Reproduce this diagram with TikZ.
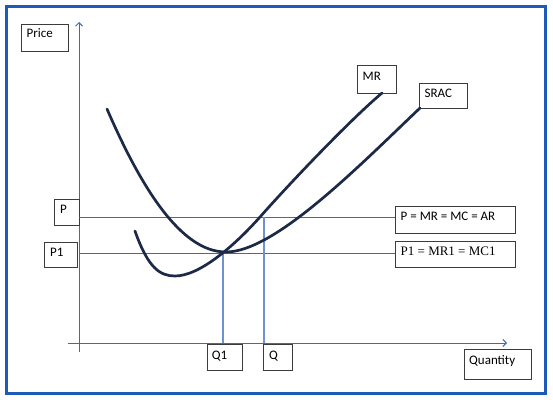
\documentclass[tikz,border=0pt]{standalone}
\usepackage{fontspec}
\setmainfont{Carlito}
\newfontfamily\serifq{Liberation Serif}
\usetikzlibrary{arrows.meta}
\definecolor{frameblue}{RGB}{30,90,185}
\definecolor{axisblue}{RGB}{60,105,185}
\definecolor{guideblue}{RGB}{110,145,210}
\definecolor{curvenavy}{RGB}{28,42,72}
\definecolor{boxgray}{RGB}{60,60,60}
\tikzset{
  lblbox/.style={draw=boxgray, line width=0.9pt, rectangle, inner sep=0pt, anchor=north west},
  lbltext/.style={anchor=base west, inner sep=0pt, font=\fontsize{13}{15}\selectfont},
  axisline/.style={draw=axisblue, line width=1pt, -{Straight Barb[length=3.5pt,width=7pt,line width=1pt]}},
  guide/.style={draw=axisblue, line width=1pt},
  vguide/.style={draw=guideblue, line width=1.2pt},
  curve/.style={draw=curvenavy, line width=2.7pt, line cap=round},
}
\begin{document}
\begin{tikzpicture}[x=1pt,y=-1pt]
\useasboundingbox (0,0) rectangle (553,401);
\fill[white] (0,0) rectangle (553,401);
\draw[frameblue, line width=3pt] (6,7) rectangle (545,393);

% axes
\coordinate (o1) at (79,352);
\coordinate (ytop) at (79,22);
\coordinate (o2) at (68,343);
\coordinate (xend) at (507,343);
\draw[axisline] (o1) -- (ytop);
\draw[axisline] (o2) -- (xend);

% boxes
\node[lblbox, minimum width=47pt, minimum height=27pt] (price) at (21,24) {};
\node[lbltext] at ([shift={(5.5,13.4)}]price.north west) {Price};

\node[lblbox, minimum width=25pt, minimum height=26pt] (pbox) at (54,199) {};
\node[lbltext] at ([shift={(6,14.4)}]pbox.north west) {P};

\node[lblbox, minimum width=33pt, minimum height=25pt] (p1box) at (44,242) {};
\node[lbltext] at ([shift={(6,14.4)}]p1box.north west) {P1};

\node[lblbox, minimum width=120pt, minimum height=27pt] (eqbox) at (395,206) {};
\node[lbltext] at ([shift={(5.5,14.4)}]eqbox.north west) {P = MR = MC = AR};

\node[lblbox, minimum width=120pt, minimum height=26pt] (eq1box) at (395,241) {};
\node[lbltext, font=\serifq\fontsize{13}{15}\selectfont] at ([shift={(5.5,14.6)}]eq1box.north west) {P1 = MR1 = MC1};

\node[lblbox, minimum width=35pt, minimum height=26pt] (q1box) at (207,344) {};
\node[lbltext] at ([shift={(4.7,15)}]q1box.north west) {Q1};

\node[lblbox, minimum width=29pt, minimum height=26pt] (qbox) at (263,344) {};
\node[lbltext] at ([shift={(6,15)}]qbox.north west) {Q};

\node[lblbox, minimum width=67pt, minimum height=30pt] (qty) at (464,349) {};
\node[lbltext] at ([shift={(5,15.4)}]qty.north west) {Quantity};

\node[lblbox, minimum width=39pt, minimum height=28pt] (mrbox) at (357,65) {};
\node[lbltext] at ([shift={(5.5,15.4)}]mrbox.north west) {MR};

\node[lblbox, minimum width=48pt, minimum height=25pt] (sracbox) at (419,83) {};
\node[lbltext] at ([shift={(5.5,14.7)}]sracbox.north west) {SRAC};

% guide lines
\coordinate (pl) at (79,217);
\coordinate (p1l) at (79,253);
\draw[guide] (pl) -- (pl -| eqbox.west);
\draw[guide] (p1l) -- (p1l -| eq1box.west);
\coordinate (q1top) at (223,253);
\coordinate (qtop) at (264,217);
\draw[vguide] (q1top) -- (q1top |- o2);
\draw[vguide] (qtop) -- (qtop |- o2);

% curves
\draw[curve] (107,109) .. controls (140,185) and (180,252) .. (226,252)
                       .. controls (275,252) and (360,165) .. (420,108);
\draw[curve] (135,231) .. controls (148,268) and (160,276) .. (175,276)
                       .. controls (200,276) and (235,245) .. (260,217)
                       .. controls (290,183) and (350,120) .. (382,93);
\end{tikzpicture}
\end{document}
